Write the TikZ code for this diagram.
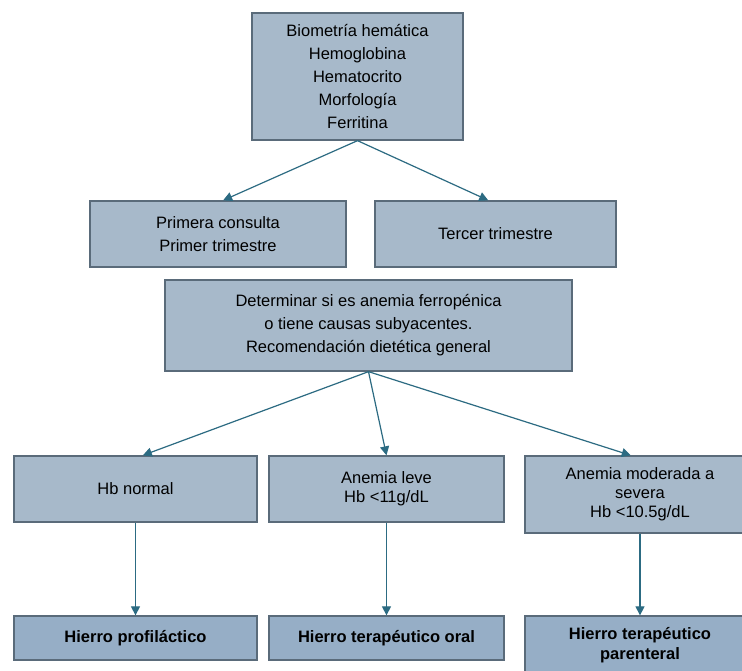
\documentclass[tikz,border=0pt]{standalone}
\usepackage{fontspec}
\setmainfont{Liberation Sans}
\usetikzlibrary{arrows.meta,calc}
\definecolor{boxfill}{HTML}{A7B9CA}
\definecolor{boxfill2}{HTML}{96AEC6}
\definecolor{boxline}{HTML}{5A6B7A}
\definecolor{arrowc}{HTML}{2C6B82}
\tikzset{
  box/.style={draw=boxline, line width=1.3pt, fill=boxfill, align=center, inner sep=0pt,
    font=\fontsize{16.5}{23}\selectfont},
  tight/.style={font=\fontsize{16.5}{19}\selectfont},
  endbox/.style={box, fill=boxfill2, font=\fontsize{16.5}{20}\selectfont\bfseries},
  conn/.style={draw=arrowc, line width=1.2pt, -{Triangle[length=9pt,width=9pt]}}
}
\begin{document}
\begin{tikzpicture}[x=1pt,y=-1pt]
\fill[white] (0,0) rectangle (742,671);
\useasboundingbox (0,0) rectangle (742,671);
\clip (0,0) rectangle (742,671);

\node[box, minimum width=211pt, minimum height=127pt] (top) at (357.5,76.5)
  {Biometría hemática\\Hemoglobina\\Hematocrito\\Morfología\\Ferritina};
\node[box, minimum width=256pt, minimum height=66pt] (prim) at (218,234)
  {Primera consulta\\Primer trimestre};
\node[box, minimum width=241pt, minimum height=66pt] (terc) at (495.5,234)
  {Tercer trimestre};
\node[box, minimum width=407pt, minimum height=91pt] (mid) at (368.5,325.5)
  {Determinar si es anemia ferropénica\\o tiene causas subyacentes.\\Recomendación dietética general};

\node[box, minimum width=243pt, minimum height=66pt] (hbn) at (135.5,489)
  {Hb normal};
\node[box, tight, minimum width=235pt, minimum height=66pt] (leve) at (386.5,489)
  {Anemia leve\\Hb <11g/dL};
\node[box, tight, minimum width=230pt, minimum height=77pt] (mod) at (640,494.5)
  {Anemia moderada a\\severa\\Hb <10.5g/dL};

\node[endbox, minimum width=243pt, minimum height=44pt] (prof) at (135.5,638)
  {Hierro profiláctico};
\node[endbox, minimum width=235pt, minimum height=44pt] (oral) at (386.5,638)
  {Hierro terapéutico oral};
\node[endbox, minimum width=230pt, minimum height=58pt] (par) at (640,645)
  {Hierro terapéutico\\parenteral};

\draw[conn] (top.south) -- ($(prim.north west)!0.52!(prim.north east)$);
\draw[conn] (top.south) -- ($(terc.north west)!0.47!(terc.north east)$);
\draw[conn] (mid.south) -- ($(hbn.north west)!0.53!(hbn.north east)$);
\draw[conn] (mid.south) -- (leve.north);
\draw[conn] (mid.south) -- ($(mod.north west)!0.46!(mod.north east)$);
\draw[conn] (hbn.south) -- (prof.north);
\draw[conn] (leve.south) -- (oral.north);
\draw[conn] (mod.south) -- (par.north);
\end{tikzpicture}
\end{document}
